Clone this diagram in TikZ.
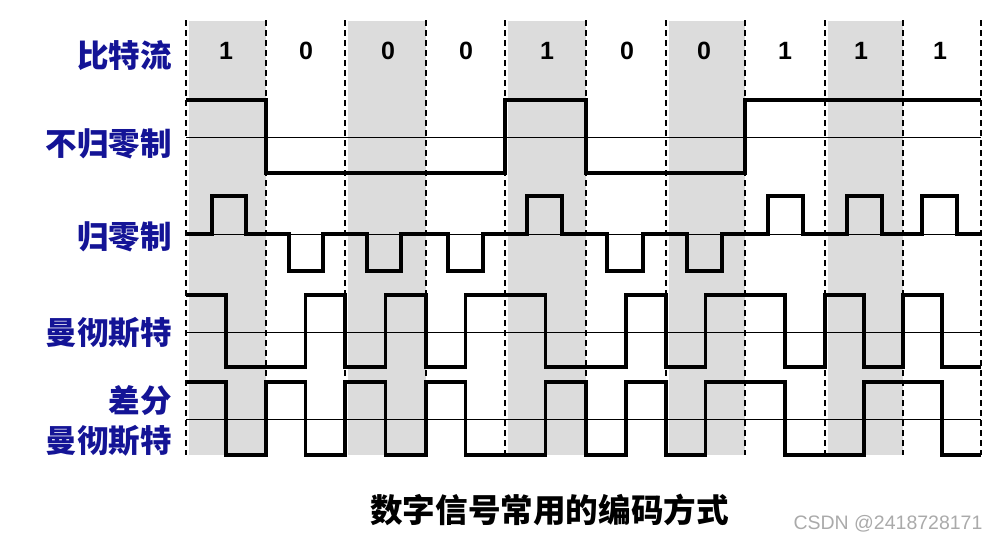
\documentclass[tikz,border=0pt]{standalone}
\usepackage{fontspec}
\setmainfont{Liberation Sans}
\newfontfamily\cjk{Noto Sans CJK SC}
\definecolor{shadegray}{RGB}{220,220,220}
\definecolor{labblue}{RGB}{20,20,150}
\definecolor{markgray}{RGB}{170,170,170}
\begin{document}
\begin{tikzpicture}[x=1pt,y=-1pt,
  wave/.style={line width=3.1pt, line join=miter, line cap=butt},
  axisline/.style={line width=0.8pt},
  divider/.style={line width=1.4pt, dash pattern=on 6pt off 4pt},
  shadecol/.style={fill=shadegray, draw=none},
  lab/.style={anchor=east, inner sep=0pt, text=labblue, font=\cjk\bfseries\fontsize{31.5}{31.5}\selectfont},
  bitlab/.style={inner sep=0pt, font=\bfseries\fontsize{25}{25}\selectfont}]
\useasboundingbox (0,0) rectangle (999,542);
% shaded bit cells
\foreach \a/\b in {189/266, 348/426, 508/586, 669/745, 828/903}
  \fill[shadecol] (\a,21) rectangle (\b,455);
% dashed bit boundaries
\foreach \x in {186,266,345,426,505,586,666,745,825,903,981}
  \draw[divider] (\x,20) -- (\x,455);
% reference lines
\foreach \y in {137,234,332,419}
  \draw[axisline] (186,\y) -- (981,\y);
% NRZ
\draw[wave] (186,100) -- (266,100) -- (266,173) -- (505,173) -- (505,100) -- (586,100) -- (586,173) -- (745,173) -- (745,100) -- (981,100);
% RZ
\draw[wave] (186,234)
  -- (212,234) -- (212,196) -- (246,196) -- (246,234)
  -- (289,234) -- (289,271) -- (323,271) -- (323,234)
  -- (367,234) -- (367,271) -- (401,271) -- (401,234)
  -- (448,234) -- (448,271) -- (483,271) -- (483,234)
  -- (527,234) -- (527,196) -- (562,196) -- (562,234)
  -- (607,234) -- (607,271) -- (643,271) -- (643,234)
  -- (687,234) -- (687,271) -- (722,271) -- (722,234)
  -- (768,234) -- (768,196) -- (803,196) -- (803,234)
  -- (847,234) -- (847,196) -- (882,196) -- (882,234)
  -- (922,234) -- (922,196) -- (957,196) -- (957,234)
  -- (981,234);
% Manchester
\draw[wave] (186,295) -- (226,295) -- (226,367) -- (305.5,367) -- (305.5,295) -- (345,295) -- (345,367) -- (385.5,367) -- (385.5,295) -- (426,295) -- (426,367) -- (465.5,367) -- (465.5,295) -- (545.5,295) -- (545.5,367) -- (626,367) -- (626,295) -- (666,295) -- (666,367) -- (705.5,367) -- (705.5,295) -- (785,295) -- (785,367) -- (825,367) -- (825,295) -- (864,295) -- (864,367) -- (903,367) -- (903,295) -- (942,295) -- (942,367) -- (981,367);
% Differential Manchester
\draw[wave] (186,382) -- (226,382) -- (226,455) -- (266,455) -- (266,382) -- (305.5,382) -- (305.5,455) -- (345,455) -- (345,382) -- (385.5,382) -- (385.5,455) -- (426,455) -- (426,382) -- (465.5,382) -- (465.5,455) -- (545.5,455) -- (545.5,382) -- (586,382) -- (586,455) -- (626,455) -- (626,382) -- (666,382) -- (666,455) -- (705.5,455) -- (705.5,382) -- (785,382) -- (785,455) -- (864,455) -- (864,382) -- (942,382) -- (942,455) -- (981,455);
% bit labels
\node[bitlab] (b0) at (226,51) {1};
\node[bitlab] (b1) at (306,51) {0};
\node[bitlab] (b2) at (388,51) {0};
\node[bitlab] (b3) at (466,51) {0};
\node[bitlab] (b4) at (547,51) {1};
\node[bitlab] (b5) at (627,51) {0};
\node[bitlab] (b6) at (704,51) {0};
\node[bitlab] (b7) at (785,51) {1};
\node[bitlab] (b8) at (861,51) {1};
\node[bitlab] (b9) at (940,51) {1};
% row labels
\node[lab] (lbits) at (172,56) {比特流};
\node[lab] (lnrz) at (172,144) {不归零制};
\node[lab] (lrz) at (172,237) {归零制};
\node[lab] (lman) at (172,333) {曼彻斯特};
\node[lab] (ldiff1) at (172,401) {差分};
\node[lab] (ldiff2) at (172,441) {曼彻斯特};
% caption
\node[inner sep=0pt, font=\cjk\bfseries\fontsize{32.6}{32.6}\selectfont] (title) at (549.5,510) {数字信号常用的编码方式};
\node[inner sep=0pt, text=markgray, font=\fontsize{19.5}{19.5}\selectfont] (mark) at (888,524) {CSDN @2418728171};
\end{tikzpicture}
\end{document}
